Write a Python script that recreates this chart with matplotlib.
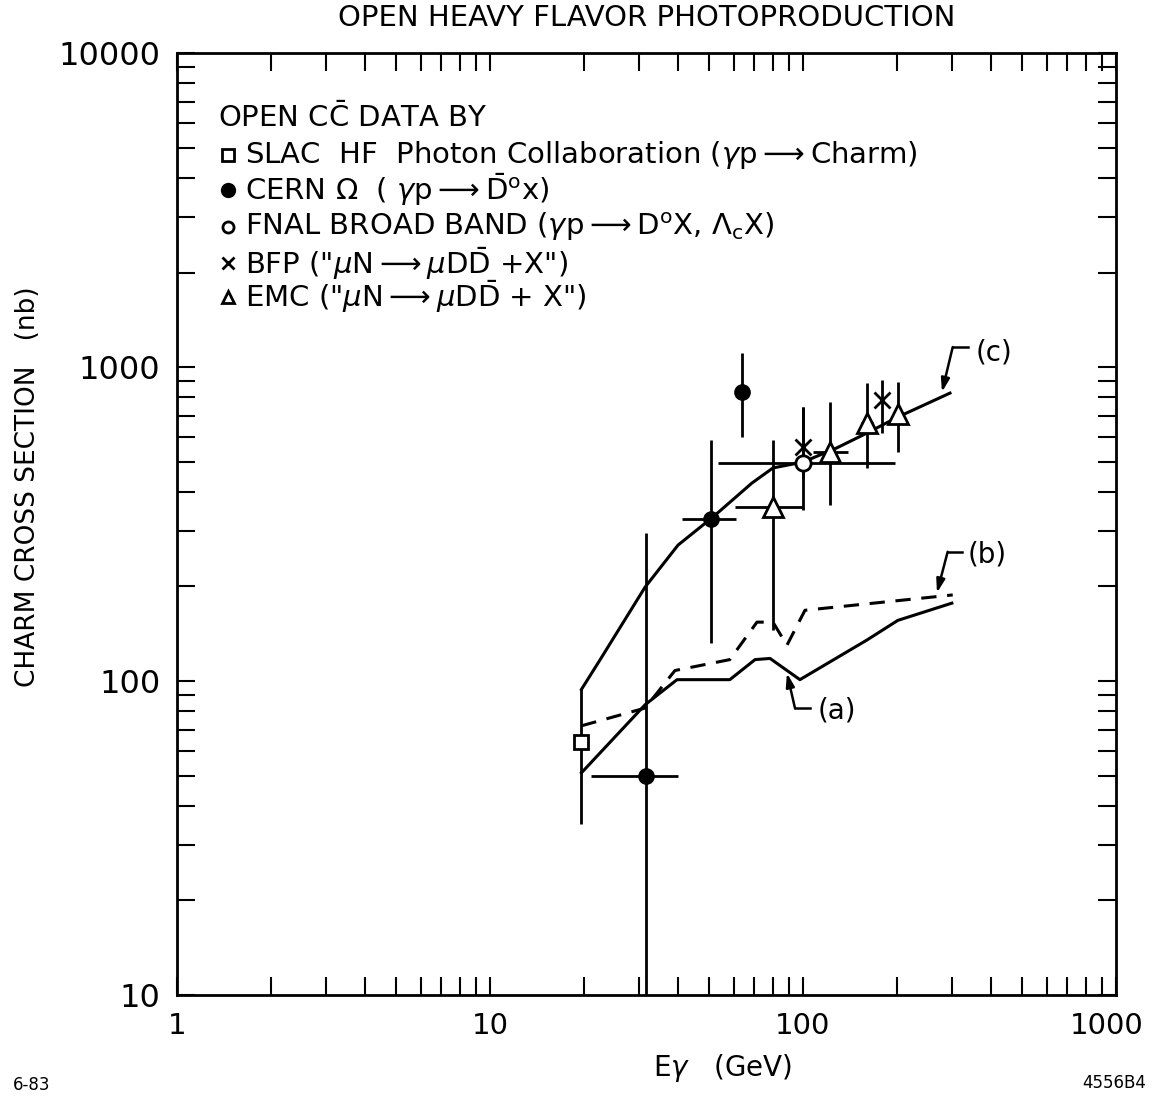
import numpy as np
import matplotlib
matplotlib.use("Agg")
from matplotlib import pyplot as plt
from matplotlib.transforms import ScaledTranslation

# ---- data (E in GeV, sigma in nb) ----
slac_E = [19.5]
slac_sig = [64]
slac_lo = [35]
slac_hi = [94]

cern_E = [31.5, 51, 64]
cern_sig = [50, 328, 830]
cern_Elo = [21, 41, 64]
cern_Ehi = [40, 61, 64]
cern_lo = [5, 132, 600]
cern_hi = [296, 586, 1110]

fnal_E = [100]
fnal_sig = [495]
fnal_Elo = [53.5]
fnal_Ehi = [197]
fnal_lo = [350]
fnal_hi = [746]

bfp_E = [100, 179]
bfp_sig = [556, 785]
bfp_lo = [440, 616]
bfp_hi = [746, 909]

emc_E = [80, 122, 160, 201]
emc_sig = [358, 536, 663, 708]
emc_Elo = [60.6, 108, 153, 201]
emc_Ehi = [100, 139, 167, 201]
emc_lo = [145, 364, 477, 536]
emc_hi = [586, 776, 889, 895]

# curve (c)
c_E = [19.6, 22.5, 31.3, 39.9, 51.6, 68.7, 80.2, 100, 128, 160, 201, 295]
c_sig = [94, 117, 199, 271, 333, 427, 477, 498, 552, 616, 693, 826]
# curve (b) dashed
b_E = [19.6, 31.3, 39.0, 58.4, 71.3, 80.2, 88.9, 101.5, 301]
b_sig = [72, 82, 108, 117, 154, 154, 130, 168, 188]
# curve (a)
a_E = [19.6, 31.3, 39.6, 58.4, 70.3, 78.5, 97.8, 160, 201, 299]
a_sig = [51, 84, 101, 101, 117, 118, 101, 135, 156, 177]

# label positions: text, hook end, corner, arrow tip
lab_txt = ["(c)", "(b)", "(a)"]
lab_text_pos = [(355, 1116), (336, 252), (111.6, 80.8)]
lab_hook = [(336, 1158), (322, 258), (105, 82)]
lab_corner = [(301, 1158), (290, 258), (94.3, 82)]
lab_tip = [(278, 832), (268, 191), (88.9, 106)]

xt = [1, 10, 100, 1000]
yt = [10, 100, 1000, 10000]
ttl = "OPEN HEAVY FLAVOR PHOTOPRODUCTION"

plt.rcParams['font.family'] = ['DejaVu Sans']
plt.rcParams['mathtext.fontset'] = 'dejavusans'

fig = plt.figure(figsize=(11.52, 10.98), dpi=100)
ax = fig.add_axes([0.1536, 0.0938, 0.8151, 0.8579])

k = 'black'
ax.set_xscale('log')
ax.set_yscale('log')
ax.set_xlim(1, 1000)
ax.set_ylim(10, 10000)


def err(E, s, lo, hi, Elo=None, Ehi=None):
	s = np.array(s, float)
	yerr = [s - np.array(lo), np.array(hi) - s]
	xerr = None
	if Elo is not None:
		E2 = np.array(E, float)
		xerr = [E2 - np.array(Elo), np.array(Ehi) - E2]
	ax.errorbar(E, s, yerr=yerr, xerr=xerr, fmt='none', ecolor=k,
				elinewidth=2.0, capsize=0, zorder=2)


# theory curves
ax.plot(c_E, c_sig, '-', color=k, lw=2.2, zorder=1)
ax.plot(b_E, b_sig, '--', color=k, lw=2.2, dashes=(5, 3.5), zorder=1)
ax.plot(a_E, a_sig, '-', color=k, lw=2.2, zorder=1)

# data with error bars
err(slac_E, slac_sig, slac_lo, slac_hi)
err(cern_E, cern_sig, cern_lo, cern_hi, cern_Elo, cern_Ehi)
err(fnal_E, fnal_sig, fnal_lo, fnal_hi, fnal_Elo, fnal_Ehi)
err(bfp_E, bfp_sig, bfp_lo, bfp_hi)
err(emc_E, emc_sig, emc_lo, emc_hi, emc_Elo, emc_Ehi)

ax.plot(slac_E, slac_sig, 's', ms=10, mfc='white', mec=k, mew=2, zorder=3)
ax.plot(cern_E, cern_sig, 'o', ms=11, mfc=k, mec=k, zorder=3)
ax.plot(fnal_E, fnal_sig, 'o', ms=11, mfc='white', mec=k, mew=2, zorder=3)
ax.plot(bfp_E, bfp_sig, 'x', ms=11, mec=k, mew=2, zorder=3)
ax.plot(emc_E, emc_sig, '^', ms=15, mfc='white', mec=k, mew=2, zorder=3)

# curve labels with bent arrows
for t, tp, hk, cn, tip in zip(lab_txt, lab_text_pos, lab_hook, lab_corner, lab_tip):
	ax.plot([hk[0], cn[0]], [hk[1], cn[1]], color=k, lw=1.8)
	ax.annotate('', xy=tip, xytext=cn,
				arrowprops=dict(arrowstyle='-|>,head_length=0.8,head_width=0.25',
								color=k, lw=1.8, shrinkA=0, shrinkB=0))
	ax.text(tp[0], tp[1], t, fontsize=20, va='center', ha='left')

# legend block, written by hand like the original
fs = 21
ax.text(0.0437, 0.931, r"OPEN C$\bar{\mathrm{C}}$ DATA BY", transform=ax.transAxes,
		fontsize=fs, va='center', ha='left')
leg_y = [0.8917, 0.8546, 0.8153, 0.777, 0.741]
leg_mk = [('s', 'white', 8), ('o', k, 9), ('o', 'white', 8), ('x', k, 9), ('^', 'white', 9)]
leg_lab = [
	r"SLAC  HF  Photon Collaboration ($\gamma$p$\longrightarrow$Charm)",
	r"CERN $\Omega$  ( $\gamma$p$\longrightarrow\bar{\mathrm{D}}^{\mathrm{o}}$x)",
	r"FNAL BROAD BAND ($\gamma$p$\longrightarrow$D$^{\mathrm{o}}$X, $\Lambda_{\mathrm{c}}$X)",
	r'BFP ("$\mu$N$\longrightarrow\mu$D$\bar{\mathrm{D}}$ +X")',
	r'EMC ("$\mu$N$\longrightarrow\mu$D$\bar{\mathrm{D}}$ + X")',
]
for yy, (m, fc, ms), lab in zip(leg_y, leg_mk, leg_lab):
	ax.plot([0.0543], [yy], m, ms=ms, mfc=fc, mec=k, mew=2, transform=ax.transAxes)
	ax.text(0.0724, yy, lab, transform=ax.transAxes, fontsize=fs, va='center', ha='left')

# axes styling
for sp in ax.spines.values():
	sp.set_linewidth(2)
ax.tick_params(which='both', direction='in', top=True, right=True,
			   length=13, width=1.5)
ax.tick_params(axis='x', pad=12, labelsize=21)
ax.tick_params(axis='y', pad=12, labelsize=23)
ax.set_xticks(xt)
ax.set_xticklabels([str(v) for v in xt])
ax.set_yticks(yt)
ax.set_yticklabels([str(v) for v in yt])
# last x label sits a bit left of its tick in the original
lbl = ax.xaxis.get_major_ticks()[-1].label1
lbl.set_transform(lbl.get_transform() + ScaledTranslation(-0.09, 0, fig.dpi_scale_trans))

fig.text(0.5616, 0.9836, ttl, fontsize=21, ha='center', va='center')
fig.text(0.627, 0.027, r"E$\gamma$   (GeV)", fontsize=20, ha='center', va='center')
fig.text(0.024, 0.5565, "CHARM CROSS SECTION   (nb)", fontsize=19, rotation=90,
		 ha='center', va='center')
fig.text(0.011, 0.012, "6-83", fontsize=12, ha='left', va='center')
fig.text(0.995, 0.014, "4556B4", fontsize=12, ha='right', va='center')

fig.savefig('out.png', dpi=100)
